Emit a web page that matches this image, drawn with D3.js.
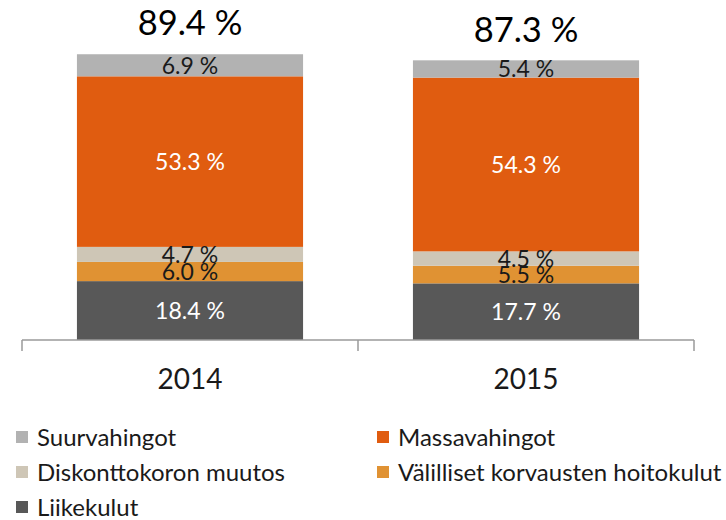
<!DOCTYPE html>
<html>
<head>
<meta charset="utf-8">
<script src="https://cdn.jsdelivr.net/npm/d3@7/dist/d3.min.js"></script>
<style>
  html, body { margin: 0; padding: 0; background: #fff; }
  svg { display: block; font-family: Lato, "Open Sans", sans-serif; }
</style>
</head>
<body>
<svg id="chart" width="726" height="520"></svg>
<script>
const years = ["2014", "2015"];
const seriesNames = ["Liikekulut", "Välilliset korvausten hoitokulut", "Diskonttokoron muutos", "Massavahingot", "Suurvahingot"];
const liikekulut = [18.4, 17.7];
const valilliset = [6.0, 5.5];
const diskontto = [4.7, 4.5];
const massavahingot = [53.3, 54.3];
const suurvahingot = [6.9, 5.4];
const totals = [89.4, 87.3];
const seriesColors = ["#585858", "#E09233", "#CEC6B6", "#E05C10", "#B2B2B2"];
const labelColors = ["#ffffff", "#1a1a1a", "#1a1a1a", "#ffffff", "#1a1a1a"];
const legendOrder = [4, 3, 2, 1, 0];

const seriesValues = [liikekulut, valilliset, diskontto, massavahingot, suurvahingot];
const table = years.map((yr, i) => {
  const row = { year: yr };
  seriesNames.forEach((s, k) => row[s] = seriesValues[k][i]);
  return row;
});
const stacked = d3.stack().keys(seriesNames)(table);

const svg = d3.select("#chart");
const x = d3.scaleBand().domain(years).range([22, 694]).paddingInner(0.327).paddingOuter(0.1635);
const xOuter = d3.scaleBand().domain(years).range([22, 694]).padding(0);
const y = d3.scaleLinear().domain([0, 100]).range([340, 20]);
const fmt = v => d3.format(".1f")(v) + " %";

// bars
const g = svg.append("g");
stacked.forEach((layer, k) => {
  g.selectAll(null).data(layer).enter().append("rect")
    .attr("x", d => x(d.data.year))
    .attr("width", x.bandwidth())
    .attr("y", d => y(d[1]))
    .attr("height", d => y(d[0]) - y(d[1]))
    .attr("fill", seriesColors[k]);
});
stacked.forEach((layer, k) => {
  g.selectAll(null).data(layer).enter().append("text")
    .attr("x", d => x(d.data.year) + x.bandwidth() / 2)
    .attr("y", d => (y(d[0]) + y(d[1])) / 2)
    .attr("dy", "0.36em")
    .attr("text-anchor", "middle")
    .attr("font-size", 23)
    .attr("fill", labelColors[k])
    .text(d => fmt(d[1] - d[0]));
});

// totals
svg.selectAll(null).data(years).enter().append("text")
  .attr("x", d => x(d) + x.bandwidth() / 2)
  .attr("y", (d, i) => y(totals[i]) - 19)
  .attr("text-anchor", "middle")
  .attr("font-size", 34.5)
  .attr("fill", "#000")
  .text((d, i) => fmt(totals[i]));

// axis
const axis = svg.append("g");
axis.append("line")
  .attr("x1", xOuter.range()[0]).attr("x2", xOuter.range()[1])
  .attr("y1", y(0)).attr("y2", y(0))
  .attr("stroke", "#9a9a9a").attr("stroke-width", 1.5);
const tickXs = years.map(d => xOuter(d)).concat([xOuter.range()[1]]);
axis.selectAll(null).data(tickXs).enter().append("line")
  .attr("x1", d => d).attr("x2", d => d)
  .attr("y1", y(0)).attr("y2", y(0) + 11)
  .attr("stroke", "#9a9a9a").attr("stroke-width", 1.5);
axis.selectAll(null).data(years).enter().append("text")
  .attr("x", d => x(d) + x.bandwidth() / 2)
  .attr("y", 389)
  .attr("text-anchor", "middle")
  .attr("font-size", 28)
  .attr("fill", "#1a1a1a")
  .text(d => d);

// legend
const legendPos = [
  { x: 16, y: 437 }, { x: 377, y: 437 },
  { x: 16, y: 472 }, { x: 377, y: 472 },
  { x: 16, y: 507 }
];
const leg = svg.append("g").selectAll(null).data(legendOrder).enter().append("g")
  .attr("transform", (d, i) => `translate(${legendPos[i].x},${legendPos[i].y})`);
leg.append("rect").attr("x", 0).attr("y", -6).attr("width", 12).attr("height", 12)
  .attr("fill", d => seriesColors[d]);
leg.append("text").attr("x", 21).attr("y", 0).attr("dy", "0.36em")
  .attr("font-size", 24).attr("fill", "#1a1a1a")
  .text(d => seriesNames[d]);
</script>
</body>
</html>
